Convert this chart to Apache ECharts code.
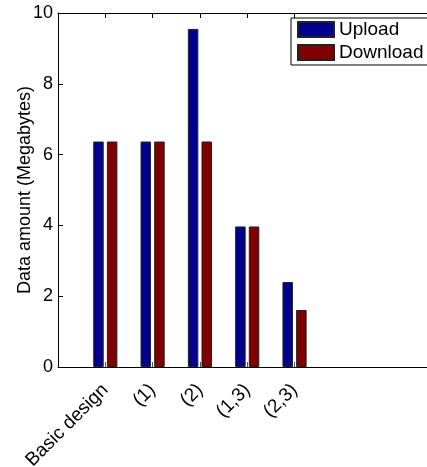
<!DOCTYPE html>
<html>
<head>
<meta charset="utf-8">
<script src="https://cdn.jsdelivr.net/npm/echarts@6/dist/echarts.min.js"></script>
<style>
  html, body { margin: 0; padding: 0; background: #fff; }
  #chart { width: 427px; height: 467px; }
</style>
</head>
<body>
<div id="chart"></div>
<script>
// Design variants along the x axis (positions 1..5; the axis runs on past the last one)
const categories = ['Basic design', '(1)', '(2)', '(1,3)', '(2,3)'];
const uploadMB = [6.37, 6.37, 9.55, 3.97, 2.40];
const downloadMB = [6.37, 6.37, 6.37, 3.97, 1.61];
const yTicks = [0, 2, 4, 6, 8, 10];

const positions = categories.map((_, i) => i + 1);
const X_MAX = 7.8; // visible part of the x range
const FONT = '"Liberation Sans", Arial, sans-serif';

const chart = echarts.init(document.getElementById('chart'), null, { renderer: 'canvas' });

const axisLineStyle = { color: '#000', width: 1 };

chart.setOption({
  animation: false,
  backgroundColor: '#fff',
  textStyle: { fontFamily: FONT, color: '#000' },
  grid: { left: 58, top: 13, bottom: 100, right: 0, containLabel: false, outerBoundsMode: 'none' },
  legend: {
    orient: 'vertical',
    left: 291,
    top: 18,
    padding: [2, 24, 3, 6],
    itemWidth: 36,
    itemHeight: 15,
    itemGap: 4,
    icon: 'rect',
    backgroundColor: '#fff',
    borderColor: '#000',
    borderWidth: 1,
    borderRadius: 0,
    textStyle: { fontFamily: FONT, fontSize: 19, color: '#000' },
    data: ['Upload', 'Download']
  },
  xAxis: [
    {
      type: 'value',
      min: 0,
      max: X_MAX,
      position: 'bottom',
      axisLine: { show: true, onZero: false, lineStyle: axisLineStyle },
      axisTick: { show: true, inside: true, length: 5, customValues: positions, lineStyle: { color: '#555' } },
      axisLabel: {
        customValues: positions,
        rotate: 45,
        margin: 20,
        fontFamily: FONT,
        fontSize: 19,
        color: '#000',
        formatter: v => categories[Math.round(v) - 1] || ''
      },
      splitLine: { show: false }
    },
    {
      type: 'value',
      min: 0,
      max: X_MAX,
      position: 'top',
      axisLine: { show: true, onZero: false, lineStyle: axisLineStyle },
      axisTick: { show: true, inside: true, length: 5, customValues: positions, lineStyle: { color: '#000' } },
      axisLabel: { show: false },
      splitLine: { show: false }
    }
  ],
  yAxis: {
    type: 'value',
    min: yTicks[0],
    max: yTicks[yTicks.length - 1],
    interval: 2,
    name: 'Data amount (Megabytes)',
    nameLocation: 'middle',
    nameGap: 24,
    nameMoveOverlap: false,
    nameTextStyle: { fontFamily: FONT, fontSize: 18, color: '#000' },
    axisLine: { show: true, lineStyle: axisLineStyle },
    axisTick: { show: true, inside: true, length: 5, lineStyle: { color: '#000' } },
    axisLabel: { margin: 5, fontFamily: FONT, fontSize: 18, color: '#000' },
    splitLine: { show: false }
  },
  series: [
    {
      name: 'Upload',
      type: 'bar',
      xAxisIndex: 0,
      barWidth: 10.5,
      barGap: '30%',
      itemStyle: { color: '#00008F', borderColor: '#222', borderWidth: 1 },
      data: uploadMB.map((v, i) => [positions[i], v])
    },
    {
      name: 'Download',
      type: 'bar',
      xAxisIndex: 0,
      barWidth: 10.5,
      barGap: '30%',
      itemStyle: { color: '#800000', borderColor: '#222', borderWidth: 1 },
      data: downloadMB.map((v, i) => [positions[i], v])
    }
  ]
});
</script>
</body>
</html>
